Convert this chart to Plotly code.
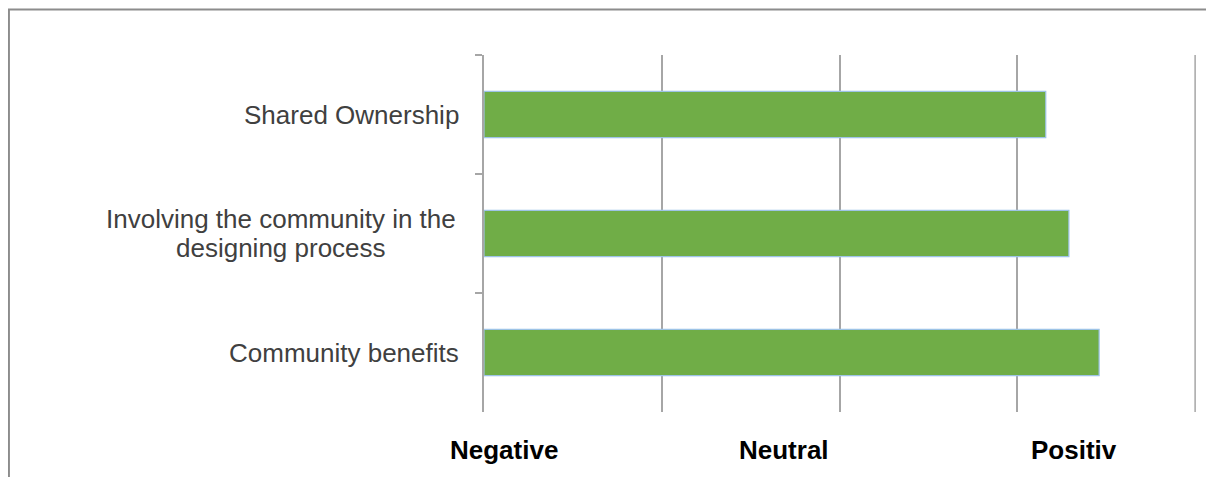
import plotly.graph_objects as go

categories = ["Shared Ownership", "Involving the community in the<br>designing process", "Community benefits"]
values = [3.16, 3.29, 3.46]
scale_labels = ["Negative", "Neutral", "Positiv"]
scale_label_pos = [0.11, 1.69, 3.32]
x_max_grid = 4

OFF = 8  # page body margin
W, H = 1206, 469
XMAX = 4.005
PLOT_L, PLOT_R, PLOT_T, PLOT_B = 484, 484 + 711 * XMAX / 4, 55, 412  # screen px
ML = PLOT_L - OFF
MR = W - (PLOT_R - OFF)
MT = PLOT_T - OFF
MB = H - (PLOT_B - OFF)
PW = W - ML - MR
PH = H - MT - MB

def px_x(p):  # screen px -> paper
    return (p - OFF - ML) / PW

def px_y(p):
    return (H - MB - (p - OFF)) / PH

GRID = "#A6A6A6"

fig = go.Figure()
fig.add_trace(go.Bar(
    y=categories, x=values, orientation="h", width=0.39,
    marker=dict(color="#70AD47", line=dict(color="#9DC3E6", width=1.2)),
    hoverinfo="skip", showlegend=False,
))

fig.update_xaxes(range=[0, XMAX], tick0=0, dtick=1, showgrid=True, gridcolor=GRID, gridwidth=1.5,
                 showticklabels=False, zeroline=False, showline=False, fixedrange=True)
fig.update_yaxes(type="category", autorange="reversed", showticklabels=False,
                 tickson="boundaries", ticks="outside", ticklen=7, tickcolor=GRID, tickwidth=1.5,
                 showline=True, linecolor=GRID, linewidth=1.5, showgrid=False, fixedrange=True)

annotations = []
for c in categories:
    lines = c.split("<br>")
    n = len(lines)
    for i, ln in enumerate(lines):
        annotations.append(dict(x=px_x(461) if n == 1 else px_x(281), xref="paper", y=c, yref="y",
                                text=ln, showarrow=False,
                                xanchor="right" if n == 1 else "center", yanchor="middle",
                                yshift=(-(i - (n - 1) / 2) * 28.5),
                                font=dict(family="Liberation Sans, Arial", size=26, color="#404040")))

for t, p in zip(scale_labels, scale_label_pos):
    annotations.append(dict(x=p, xref="x", y=px_y(450), yref="paper", text=t, showarrow=False,
                            xanchor="center", yanchor="middle",
                            font=dict(family="Liberation Sans, Arial", size=26,
                                      color="#000000", weight="bold")))

fig.update_layout(
    width=W, height=H, margin=dict(l=ML, r=MR, t=MT, b=MB),
    paper_bgcolor="white", plot_bgcolor="white",
    bargap=0.6, annotations=annotations,
    shapes=[
        dict(type="rect", xref="paper", yref="paper",
             x0=px_x(9), x1=px_x(1240), y0=px_y(520), y1=px_y(9.5),
             line=dict(color="#8C8C8C", width=2), layer="below"),
        dict(type="line", xref="x", yref="paper", x0=x_max_grid, x1=x_max_grid, y0=0, y1=1,
             line=dict(color=GRID, width=1.5), layer="below"),
    ],
)

fig.write_html("out.html")
